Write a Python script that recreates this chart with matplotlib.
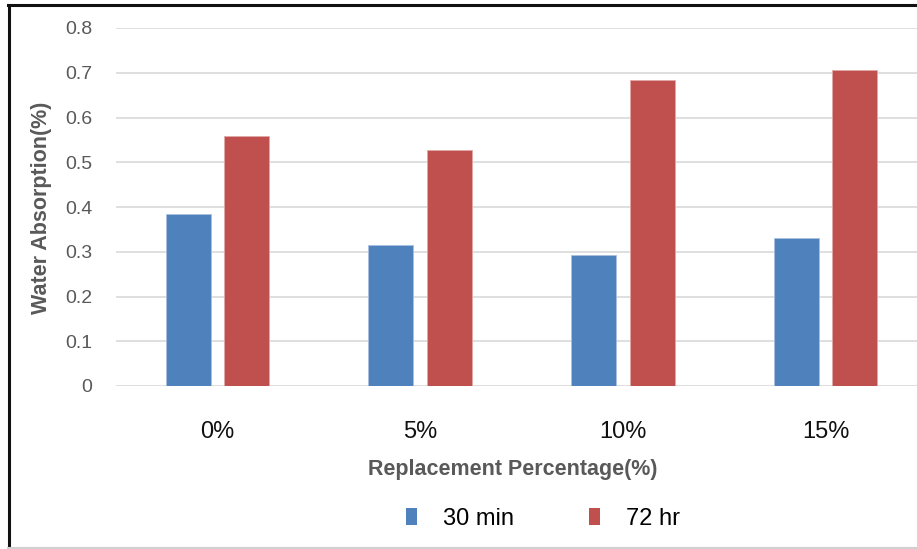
import matplotlib
matplotlib.use("Agg")
import matplotlib.pyplot as plt
import matplotlib.patches as patches
from matplotlib.lines import Line2D
import numpy as np

# Данные
categories = ["0%", "5%", "10%", "15%"]
series_names = ["30 min", "72 hr"]
vals_30min = [0.384, 0.315, 0.293, 0.331]
vals_72hr = [0.559, 0.527, 0.684, 0.706]
y_ticks = [0, 0.1, 0.2, 0.3, 0.4, 0.5, 0.6, 0.7, 0.8]

BLUE = "#4f81bd"
RED = "#c0504d"
GRAY = "#595959"

plt.rcParams["font.family"] = ["Liberation Sans", "DejaVu Sans"]

W, H = 917, 549
fig = plt.figure(figsize=(W / 100, H / 100), dpi=100)
fig.patch.set_facecolor("white")

# внешняя рамка
fig.add_artist(Line2D([8.5 / W, 8.5 / W], [1 - 5 / H, 1 - 548 / H],
                      transform=fig.transFigure, color="#111111", lw=2.2))
fig.add_artist(Line2D([8 / W, 1.0], [1 - 5 / H, 1 - 5 / H],
                      transform=fig.transFigure, color="#111111", lw=2.2))
fig.add_artist(Line2D([8 / W, 1.0], [1 - 547.5 / H, 1 - 547.5 / H],
                      transform=fig.transFigure, color="#d0d0d0", lw=1.5))

left, right = 116 / W, 1.0
bottom, top = 1 - 386 / H, 1 - 28 / H
ax = fig.add_axes([left, bottom, right - left, top - bottom])

x = np.arange(len(categories))
bw = 0.222
off = 0.144
ax.bar(x - off, vals_30min, bw, color=BLUE, edgecolor="#a9c0de", linewidth=0.6,
       label=series_names[0], zorder=3)
ax.bar(x + off, vals_72hr, bw, color=RED, edgecolor="#e0a8a6", linewidth=0.6,
       label=series_names[1], zorder=3)

ax.set_xlim(-0.5, 3.45)
ax.set_ylim(0, 0.8)
ax.set_yticks(y_ticks)
ax.set_yticklabels(["0" if v == 0 else f"{v:.1f}" for v in y_ticks],
                   fontsize=14, color=GRAY)
ax.set_xticks(x)
ax.set_xticklabels(categories, fontsize=17, color="#111111")
ax.tick_params(axis="both", length=0)
ax.tick_params(axis="y", pad=17)
ax.tick_params(axis="x", pad=25)
ax.grid(axis="y", color="#d9d9d9", lw=1.2, zorder=0)
for s in ax.spines.values():
    s.set_visible(False)

fig.text(42 / W, 1 - 208 / H, "Water Absorption(%)", rotation=90,
         ha="center", va="center", fontsize=15.5, fontweight="bold", color=GRAY)
fig.text(513 / W, 1 - 469 / H, "Replacement Percentage(%)",
         ha="center", va="center", fontsize=15.5, fontweight="bold", color=GRAY)

handles = [patches.Patch(facecolor=BLUE, label=series_names[0]),
           patches.Patch(facecolor=RED, label=series_names[1])]
fig.legend(handles=handles, loc="center", bbox_to_anchor=(543 / W, 1 - 519 / H),
           ncol=2, frameon=False, fontsize=17, handlelength=0.45, handleheight=0.7,
           columnspacing=3.2, handletextpad=1.1)

fig.savefig("out.png", dpi=100, facecolor="white")
